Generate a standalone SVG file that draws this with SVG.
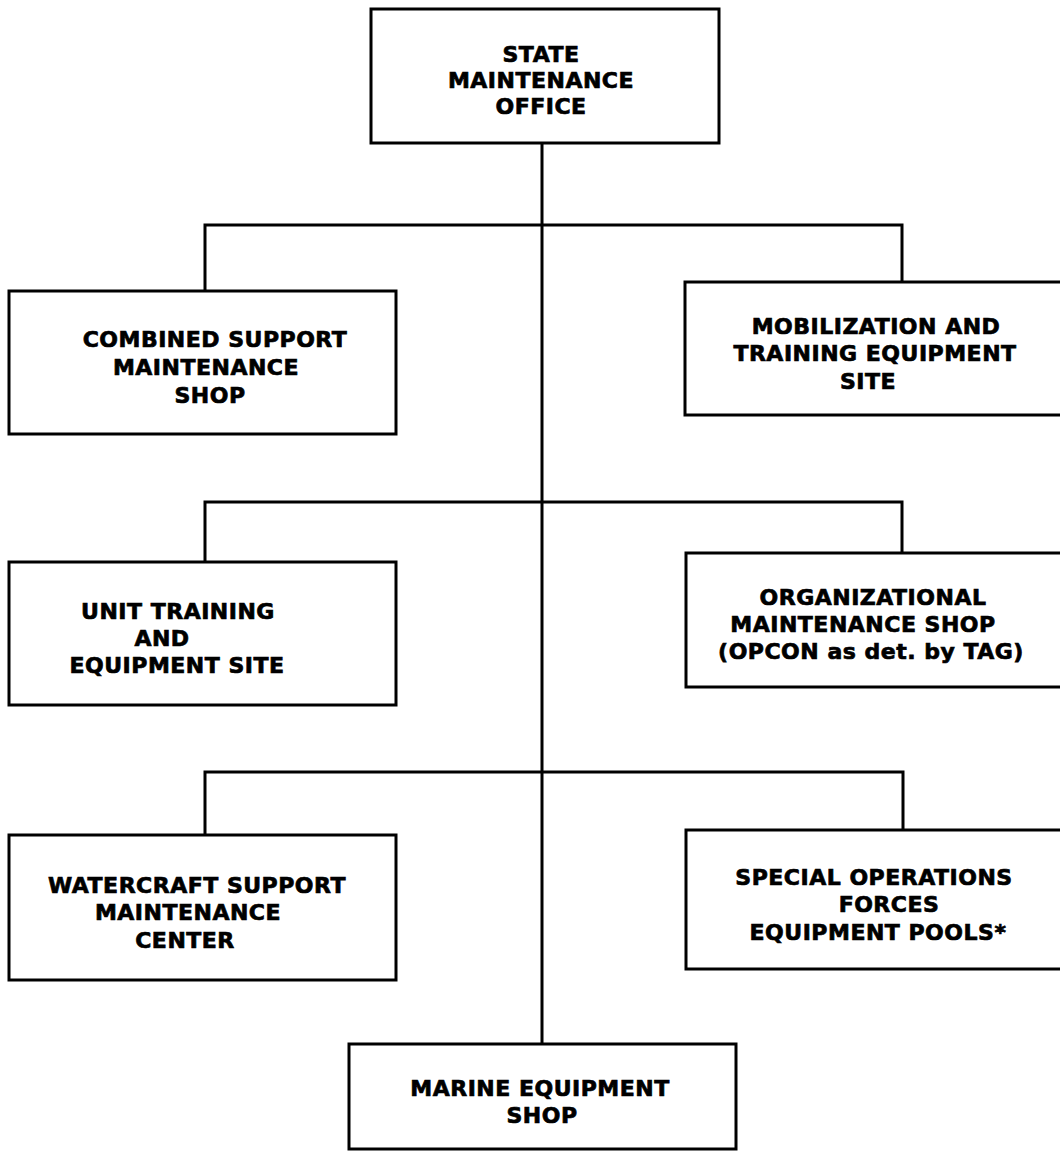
<svg xmlns="http://www.w3.org/2000/svg" width="1060" height="1152" viewBox="0 0 1060 1152">
<style>
.box{fill:#fff;stroke:#000;stroke-width:3}
.conn{fill:none;stroke:#000;stroke-width:3}
text{font-family:"DejaVu Sans","Liberation Sans",sans-serif;font-weight:bold;font-size:22px;letter-spacing:0.5px;text-anchor:middle;fill:#000;stroke:#000;stroke-width:0.7px}
</style>
<rect x="0" y="0" width="1060" height="1152" fill="#fff"/>
<g id="connectors">
<path class="conn" d="M542,143 V1044"/>
<path class="conn" d="M205,291 V225 H902 V282"/>
<path class="conn" d="M205,562 V502 H902 V553"/>
<path class="conn" d="M205,835 V772 H903 V830"/>
</g>
<g id="state-maintenance-office">
<rect class="box" x="371" y="9" width="348" height="134"/>
<text x="541" y="62">STATE</text>
<text x="541" y="88">MAINTENANCE</text>
<text x="541" y="114">OFFICE</text>
</g>
<g id="combined-support-maintenance-shop">
<rect class="box" x="9" y="291" width="387" height="143"/>
<text x="215" y="347">COMBINED SUPPORT</text>
<text x="206" y="375">MAINTENANCE</text>
<text x="210" y="403">SHOP</text>
</g>
<g id="mobilization-training-equipment-site">
<rect class="box" x="685" y="282" width="390" height="133"/>
<text x="876" y="334">MOBILIZATION AND</text>
<text x="875" y="361">TRAINING EQUIPMENT</text>
<text x="868" y="389">SITE</text>
</g>
<g id="unit-training-equipment-site">
<rect class="box" x="9" y="562" width="387" height="143"/>
<text x="178" y="619">UNIT TRAINING</text>
<text x="162" y="646">AND</text>
<text x="177" y="673">EQUIPMENT SITE</text>
</g>
<g id="organizational-maintenance-shop">
<rect class="box" x="686" y="553" width="390" height="134"/>
<text x="873" y="605">ORGANIZATIONAL</text>
<text x="863" y="632">MAINTENANCE SHOP</text>
<text x="871" y="659">(OPCON as det. by TAG)</text>
</g>
<g id="watercraft-support-maintenance-center">
<rect class="box" x="9" y="835" width="387" height="145"/>
<text x="197" y="893">WATERCRAFT SUPPORT</text>
<text x="188" y="920">MAINTENANCE</text>
<text x="185" y="948">CENTER</text>
</g>
<g id="special-operations-forces-equipment-pools">
<rect class="box" x="686" y="830" width="390" height="139"/>
<text x="874" y="885">SPECIAL OPERATIONS</text>
<text x="889" y="912">FORCES</text>
<text x="878" y="940">EQUIPMENT POOLS*</text>
</g>
<g id="marine-equipment-shop">
<rect class="box" x="349" y="1044" width="387" height="105"/>
<text x="540" y="1096">MARINE EQUIPMENT</text>
<text x="542" y="1123">SHOP</text>
</g>
</svg>
